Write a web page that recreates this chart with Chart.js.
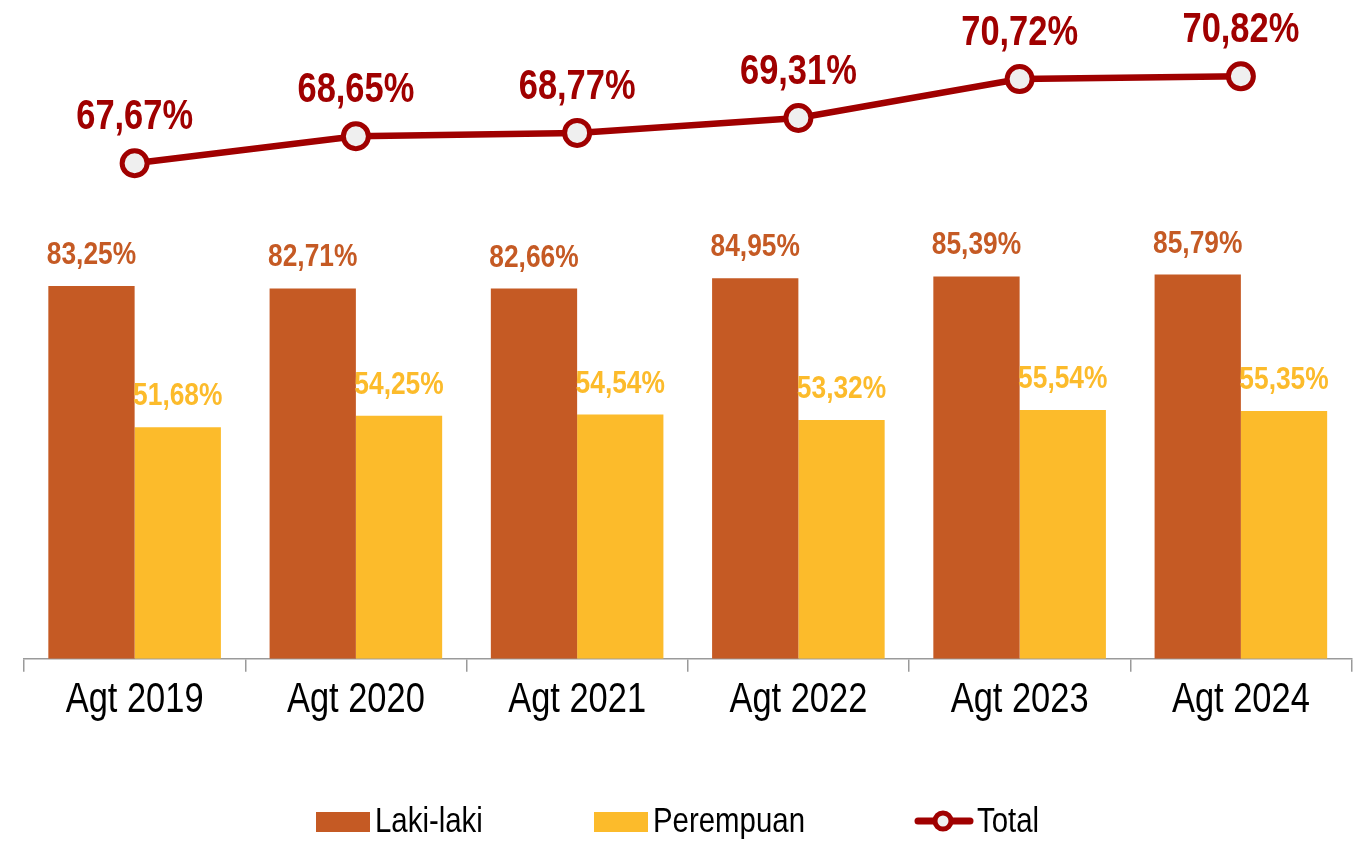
<!DOCTYPE html>
<html><head><meta charset="utf-8">
<script src="https://cdn.jsdelivr.net/npm/chart.js@4"></script>
<style>html,body{margin:0;padding:0;background:#fff;}#wrap{width:1369px;height:841px;}</style>
</head><body><div id="wrap"><canvas id="c" width="1369" height="841"></canvas></div>
<script>
const categories = ["Agt 2019","Agt 2020","Agt 2021","Agt 2022","Agt 2023","Agt 2024"];
const lakiLaki = [83.25, 82.71, 82.66, 84.95, 85.39, 85.79];
const perempuan = [51.68, 54.25, 54.54, 53.32, 55.54, 55.35];
const total = [67.67, 68.65, 68.77, 69.31, 70.72, 70.82];
const seriesNames = ["Laki-laki","Perempuan","Total"];

const FONT = "'Liberation Sans Narrow','Arial Narrow','Liberation Sans',Arial,sans-serif";
const SX = 0.82;
const C_LAKI = "#C55A24", C_PER = "#FCBB2B", C_TOT = "#A00000", C_PT = "#EFEFEF";
const fmt = v => v.toFixed(2).replace('.', ',') + '%';

function narrowText(ctx, text, x, y, align, sx) {
  ctx.save();
  ctx.translate(x, y);
  ctx.scale(sx || SX, 1);
  ctx.textAlign = align;
  ctx.textBaseline = 'alphabetic';
  ctx.fillText(text, 0, 0);
  ctx.restore();
}

const labelPlugin = {
  id: 'labels',
  afterDatasetsDraw(chart) {
    const ctx = chart.ctx;
    ctx.save();
    const specs = [
      {i:1, color:C_LAKI, font:'bold 31px '+FONT, off:22, data:lakiLaki},
      {i:2, color:C_PER, font:'bold 31px '+FONT, off:22, data:perempuan},
      {i:0, color:C_TOT, font:'bold 42px '+FONT, off:34, data:total}
    ];
    specs.forEach(s => {
      const meta = chart.getDatasetMeta(s.i);
      ctx.fillStyle = s.color; ctx.font = s.font;
      meta.data.forEach((el, k) => {
        narrowText(ctx, fmt(s.data[k]), el.x, el.y - s.off, 'center', s.i === 0 ? 0.82 : 0.85);
      });
    });
    ctx.restore();
  },
  afterDraw(chart) {
    const ctx = chart.ctx;
    ctx.save();
    const xs = chart.scales.x;
    ctx.fillStyle = '#000';
    ctx.font = '42px ' + FONT;
    categories.forEach((c, k) => {
      narrowText(ctx, c, xs.getPixelForValue(k), 712, 'center');
    });
    ctx.font = '35px ' + FONT;
    const y = 821;
    ctx.fillStyle = C_LAKI; ctx.fillRect(316, 812, 54, 20);
    ctx.fillStyle = '#000'; narrowText(ctx, seriesNames[0], 375, 832, 'left', 0.84);
    ctx.fillStyle = C_PER; ctx.fillRect(594, 812, 54, 20);
    ctx.fillStyle = '#000'; narrowText(ctx, seriesNames[1], 653, 832, 'left', 0.84);
    ctx.strokeStyle = C_TOT; ctx.lineWidth = 7; ctx.lineCap = 'round';
    ctx.beginPath(); ctx.moveTo(918, y); ctx.lineTo(970, y); ctx.stroke();
    ctx.beginPath(); ctx.arc(943, y, 8, 0, Math.PI*2);
    ctx.fillStyle = C_PT; ctx.fill(); ctx.lineWidth = 5; ctx.stroke();
    ctx.fillStyle = '#000'; narrowText(ctx, seriesNames[2], 977, 832, 'left', 0.84);
    ctx.restore();
  }
};

new Chart(document.getElementById('c'), {
  data: {
    labels: categories,
    datasets: [
      {type:'line', label:seriesNames[2], data:total, yAxisID:'y2', order:0,
       borderColor:C_TOT, borderWidth:6.5, pointRadius:12.5, pointBorderWidth:5,
       pointBackgroundColor:C_PT, pointBorderColor:C_TOT, tension:0, fill:false},
      {type:'bar', label:seriesNames[0], data:lakiLaki, yAxisID:'y', order:1,
       backgroundColor:C_LAKI, categoryPercentage:0.78, barPercentage:1.0},
      {type:'bar', label:seriesNames[1], data:perempuan, yAxisID:'y', order:1,
       backgroundColor:C_PER, categoryPercentage:0.78, barPercentage:1.0}
    ]
  },
  options: {
    responsive:false, animation:false,
    layout:{padding:{left:24, right:11, top:0, bottom:108}},
    plugins:{legend:{display:false}, tooltip:{enabled:false}},
    scales:{
      x:{offset:true,
         grid:{offset:true, drawOnChartArea:false, drawTicks:true, tickLength:13, color:'#9A9A9A', lineWidth:1.5},
         border:{color:'#9A9A9A', width:1.5},
         ticks:{color:'rgba(0,0,0,0)', font:{family:FONT, size:41}, padding:6, maxRotation:0}},
      y:{display:false, min:0, max:143.2},
      y2:{display:false, min:49.72, max:72.95}
    }
  },
  plugins:[labelPlugin]
});
</script></body></html>
